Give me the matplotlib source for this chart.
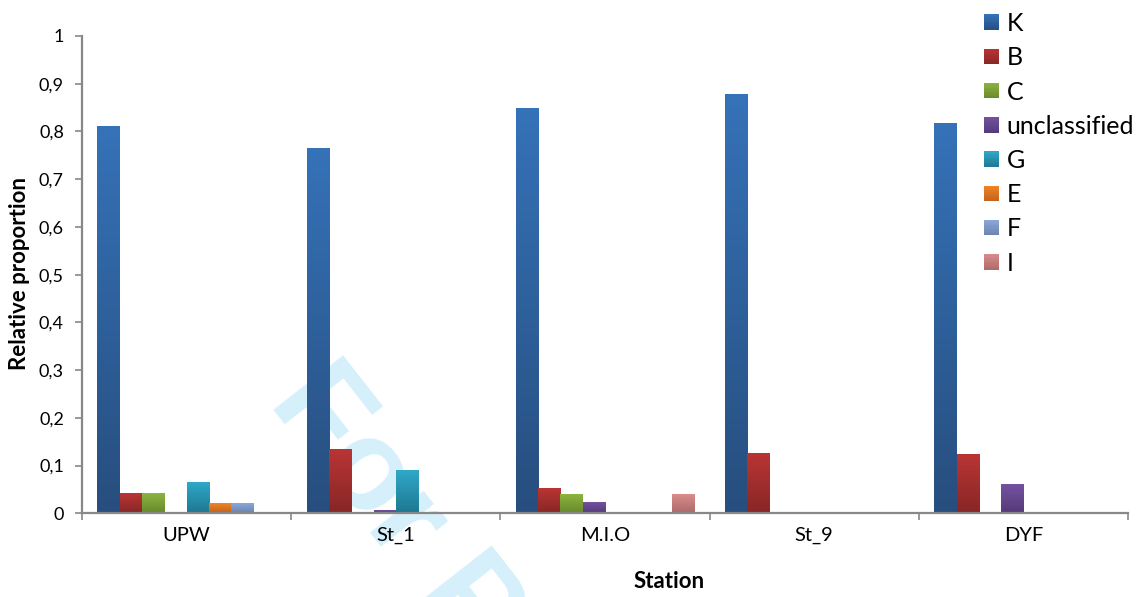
import numpy as np
import matplotlib
matplotlib.use("Agg")
import matplotlib.pyplot as plt
from matplotlib.patches import Rectangle, Patch
from matplotlib.legend_handler import HandlerBase
from matplotlib.colors import to_rgb

# ---- data -------------------------------------------------------------
stations = ["UPW", "St_1", "M.I.O", "St_9", "DYF"]
groups = ["K", "B", "C", "unclassified", "G", "E", "F", "I"]

K = [0.810, 0.764, 0.848, 0.877, 0.816]
B = [0.040, 0.134, 0.052, 0.124, 0.122]
C = [0.040, 0.0, 0.038, 0.0, 0.0]
unclassified = [0.0, 0.006, 0.021, 0.0, 0.059]
G = [0.063, 0.090, 0.0, 0.0, 0.0]
E = [0.019, 0.0, 0.0, 0.0, 0.0]
F = [0.019, 0.0, 0.0, 0.0, 0.0]
I = [0.0, 0.0, 0.038, 0.0, 0.0]
series = [K, B, C, unclassified, G, E, F, I]

yticks = [0, 0.1, 0.2, 0.3, 0.4, 0.5, 0.6, 0.7, 0.8, 0.9, 1.0]
ytick_labels = ["0", "0,1", "0,2", "0,3", "0,4", "0,5", "0,6", "0,7", "0,8", "0,9", "1"]

# gradient colours (top, bottom) per group
gradients = [
    ("#3572b8", "#274e7e"),
    ("#b93534", "#882626"),
    ("#8cb440", "#68892c"),
    ("#7352a0", "#553b79"),
    ("#2fa8c8", "#1e7891"),
    ("#f28426", "#bf631c"),
    ("#8ca8da", "#6a83ad"),
    ("#d98c8b", "#ac6b6b"),
]

FONT = "Lato"
AXIS_GREY = "#888888"

W, H = 1145, 597
fig = plt.figure(figsize=(W / 100, H / 100), dpi=100)
fig.patch.set_facecolor("white")

# faint diagonal watermark behind the plot
fig.text(268 / W, 1 - 402 / H, "For Peer Review", fontsize=92,
         family="Liberation Sans", weight="bold", color="#d5effb",
         rotation=-52, rotation_mode="anchor", ha="left", va="baseline",
         zorder=-5)

ax = fig.add_axes([82 / W, 1 - 513.3 / H, (1128 - 82) / W, (513.3 - 36) / H])
ax.patch.set_visible(False)

n = len(groups)
bw = 0.1065
x = np.arange(len(stations))
offsets = (np.arange(n) - (n - 1) / 2) * bw


def gradient_image(top, bottom, steps=64):
    t = np.linspace(0, 1, steps)[:, None]
    a, b = np.array(to_rgb(top)), np.array(to_rgb(bottom))
    return (a * (1 - t) + b * t)[:, None, :]


for i, (vals, (ctop, cbot)) in enumerate(zip(series, gradients)):
    bars = ax.bar(x + offsets[i], vals, width=bw, color="none",
                  linewidth=0, label=groups[i])
    img = gradient_image(ctop, cbot)
    for bar in bars:
        h = bar.get_height()
        if h <= 0:
            continue
        x0 = bar.get_x()
        ax.imshow(img, extent=(x0, x0 + bar.get_width(), 0, h),
                  origin="upper", aspect="auto", interpolation="bilinear",
                  zorder=2)

ax.set_xlim(-0.5, len(stations) - 0.5)
ax.set_ylim(0, 1)

# axes styling
for s in ("top", "right"):
    ax.spines[s].set_visible(False)
for s in ("left", "bottom"):
    ax.spines[s].set_color(AXIS_GREY)
    ax.spines[s].set_linewidth(1.6)
    ax.spines[s].set_zorder(3)

ax.set_yticks(yticks)
ax.set_yticklabels(ytick_labels, family=FONT, fontsize=13)
ax.tick_params(axis="y", direction="out", length=5, width=1.2,
               color=AXIS_GREY, pad=8)

ax.set_xticks(x)
ax.set_xticklabels(stations, family=FONT, fontsize=14.5)
ax.set_xticks(np.arange(len(stations) + 1) - 0.5, minor=True)
ax.tick_params(axis="x", which="major", length=0, pad=10)
ax.tick_params(axis="x", which="minor", direction="out", length=5,
               width=1.2, color=AXIS_GREY)

fig.text(669 / W, 1 - 582 / H, "Station", family=FONT, weight="bold",
         fontsize=16, ha="center", va="center")
fig.text(20 / W, 1 - 273 / H, "Relative proportion", family=FONT,
         weight="bold", fontsize=16, rotation=90, ha="center", va="center")


# legend with gradient swatches
class GradientSwatch(HandlerBase):
    def create_artists(self, legend, orig_handle, xdescent, ydescent,
                       width, height, fontsize, trans):
        ctop, cbot = orig_handle.grad
        steps = 12
        a, b = np.array(to_rgb(ctop)), np.array(to_rgb(cbot))
        arts = []
        for k in range(steps):
            t = (k + 0.5) / steps
            col = a * t + b * (1 - t)
            r = Rectangle((-xdescent, -ydescent + k * height / steps),
                          width, height / steps + 0.01, facecolor=col,
                          edgecolor="none", transform=trans)
            arts.append(r)
        return arts


handles = []
for g, grad in zip(groups, gradients):
    p = Patch(label=g)
    p.grad = grad
    handles.append(p)

leg = fig.legend(handles=handles, labels=groups, loc="upper left",
                 bbox_to_anchor=(984 / W, 1 - 12 / H), frameon=False,
                 prop={"family": FONT, "size": 18},
                 handler_map={Patch: GradientSwatch()},
                 handlelength=0.58, handleheight=0.58, handletextpad=0.33,
                 labelspacing=0.45, borderpad=0, borderaxespad=0)

fig.savefig("out.png", dpi=100)
